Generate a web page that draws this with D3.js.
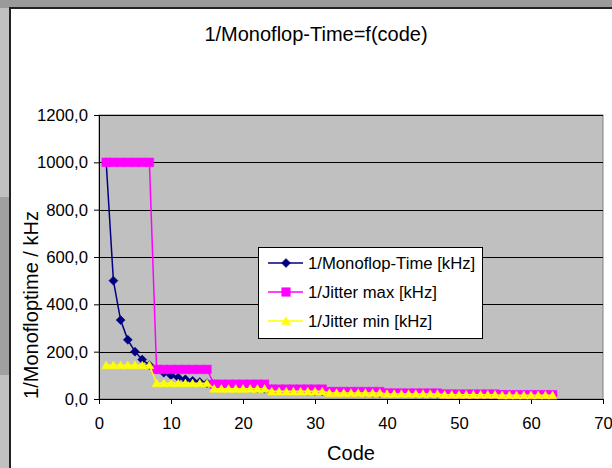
<!DOCTYPE html>
<html>
<head>
<meta charset="utf-8">
<script src="https://cdn.jsdelivr.net/npm/d3@7"></script>
<style>
body { margin: 0; background: #fff; }
text { font-family: "Liberation Sans", Arial, sans-serif; fill: #000; }
</style>
</head>
<body>
<div id="chart"></div>
<script>
// Codes 1..63 (x values)
const codes = [1, 2, 3, 4, 5, 6, 7, 8, 9, 10, 11, 12, 13, 14, 15, 16, 17, 18, 19, 20,
	21, 22, 23, 24, 25, 26, 27, 28, 29, 30, 31, 32, 33, 34, 35, 36, 37, 38, 39, 40,
	41, 42, 43, 44, 45, 46, 47, 48, 49, 50, 51, 52, 53, 54, 55, 56, 57, 58, 59, 60,
	61, 62, 63];

// 1/Monoflop-Time [kHz]
const monoflop = [1000, 500, 333.3, 250, 200, 166.7, 142.9, 125, 111.1, 100,
	90.9, 83.3, 76.9, 71.4, 66.7, 62.5, 58.8, 55.6, 52.6, 50,
	47.6, 45.5, 43.5, 41.7, 40, 38.5, 37, 35.7, 34.5, 33.3,
	32.3, 31.3, 30.3, 29.4, 28.6, 27.8, 27, 26.3, 25.6, 25,
	24.4, 23.8, 23.3, 22.7, 22.2, 21.7, 21.3, 20.8, 20.4, 20,
	19.6, 19.2, 18.9, 18.5, 18.2, 17.9, 17.5, 17.2, 16.9, 16.7,
	16.4, 16.1, 15.9];

// 1/Jitter max [kHz]
const jitterMax = [1000, 1000, 1000, 1000, 1000, 1000, 1000,
	125, 125, 125, 125, 125, 125, 125, 125,
	62.5, 62.5, 62.5, 62.5, 62.5, 62.5, 62.5, 62.5,
	41.7, 41.7, 41.7, 41.7, 41.7, 41.7, 41.7, 41.7,
	31.3, 31.3, 31.3, 31.3, 31.3, 31.3, 31.3, 31.3,
	25, 25, 25, 25, 25, 25, 25, 25,
	20.8, 20.8, 20.8, 20.8, 20.8, 20.8, 20.8, 20.8,
	17.9, 17.9, 17.9, 17.9, 17.9, 17.9, 17.9, 17.9];

// 1/Jitter min [kHz]
const jitterMin = [142.9, 142.9, 142.9, 142.9, 142.9, 142.9, 142.9,
	66.7, 66.7, 66.7, 66.7, 66.7, 66.7, 66.7, 66.7,
	43.5, 43.5, 43.5, 43.5, 43.5, 43.5, 43.5, 43.5,
	32.3, 32.3, 32.3, 32.3, 32.3, 32.3, 32.3, 32.3,
	25.6, 25.6, 25.6, 25.6, 25.6, 25.6, 25.6, 25.6,
	21.3, 21.3, 21.3, 21.3, 21.3, 21.3, 21.3, 21.3,
	18.2, 18.2, 18.2, 18.2, 18.2, 18.2, 18.2, 18.2,
	15.9, 15.9, 15.9, 15.9, 15.9, 15.9, 15.9, 15.9];

const xTicks = [0, 10, 20, 30, 40, 50, 60, 70];
const yTicks = [0, 200, 400, 600, 800, 1000, 1200];

const seriesNames = ["1/Monoflop-Time [kHz]", "1/Jitter max [kHz]", "1/Jitter min [kHz]"];

const W = 612, H = 468;
const svg = d3.select("#chart").append("svg")
	.attr("width", W)
	.attr("height", H);

// Window chrome around the chart
svg.append("rect").attr("x", 0).attr("y", 0).attr("width", W).attr("height", H).attr("fill", "#c0c0c0");
svg.append("rect").attr("x", 0).attr("y", 0).attr("width", W).attr("height", 8).attr("fill", "#9a9a9a");
svg.append("rect").attr("x", 0).attr("y", 197).attr("width", 9).attr("height", 178).attr("fill", "#a0a0a0");
svg.append("rect").attr("x", 10).attr("y", 8).attr("width", W).attr("height", H).attr("fill", "#fff")
	.attr("stroke", "#222").attr("stroke-width", 2);

// Plot area
const plot = {left: 99, right: 603, top: 115, bottom: 399};

const x = d3.scaleLinear().domain([0, 70]).range([plot.left, plot.right]);
const y = d3.scaleLinear().domain([0, 1200]).range([plot.bottom, plot.top]);

svg.append("rect")
	.attr("x", plot.left).attr("y", plot.top)
	.attr("width", plot.right - plot.left).attr("height", plot.bottom - plot.top)
	.attr("fill", "#c0c0c0").attr("stroke", "#808080").attr("stroke-width", 1);

// Gridlines
svg.append("g")
	.selectAll("line")
	.data(yTicks.filter(d => d > 0))
	.enter().append("line")
	.attr("x1", plot.left).attr("x2", plot.right)
	.attr("y1", d => Math.round(y(d)) + 0.5).attr("y2", d => Math.round(y(d)) + 0.5)
	.attr("stroke", "#000").attr("stroke-width", 1);

// Axes
const loc = d3.formatLocale({decimal: ",", thousands: ".", grouping: [3], currency: ["", ""]});
const fmt = loc.format(".1f");

const yAxis = svg.append("g")
	.attr("transform", `translate(${plot.left},0)`)
	.call(d3.axisLeft(y).tickValues(yTicks).tickFormat(fmt).tickSizeInner(5).tickSizeOuter(0).tickPadding(6));
const xAxis = svg.append("g")
	.attr("transform", `translate(0,${plot.bottom})`)
	.call(d3.axisBottom(x).tickValues(xTicks).tickSizeInner(5).tickSizeOuter(0).tickPadding(13));

[xAxis, yAxis].forEach(a => {
	a.selectAll("path, line").attr("stroke", "#000");
	a.selectAll("text").style("font-size", "16.7px").attr("fill", "#000");
	a.attr("font-family", null);
});

// Marker shapes
const diamond = "M0,-4.5L4.5,0L0,4.5L-4.5,0Z";
const square = "M-4.3,-4.3H4.3V4.3H-4.3Z";
const triangle = "M0,-4.2L4.5,3.6L-4.5,3.6Z";

const series = [
	{name: seriesNames[0], values: monoflop, color: "#000080", marker: diamond},
	{name: seriesNames[1], values: jitterMax, color: "#ff00ff", marker: square},
	{name: seriesNames[2], values: jitterMin, color: "#ffff00", marker: triangle}
];

const line = d3.line()
	.x(d => x(d[0]))
	.y(d => y(d[1]));

series.forEach(s => {
	const pts = codes.map((c, i) => [c, s.values[i]]);
	svg.append("path")
		.datum(pts)
		.attr("fill", "none")
		.attr("stroke", s.color)
		.attr("stroke-width", 1.5)
		.attr("d", line);

	svg.append("g")
		.selectAll("path")
		.data(pts)
		.enter().append("path")
		.attr("transform", d => `translate(${x(d[0])},${y(d[1])})`)
		.attr("d", s.marker)
		.attr("fill", s.color)
		.attr("stroke", s.color)
		.attr("stroke-width", 0.5);
});

// Legend
const legend = svg.append("g");
legend.append("rect")
	.attr("x", 258.5).attr("y", 247.5).attr("width", 224).attr("height", 91)
	.attr("fill", "#fff").attr("stroke", "#000").attr("stroke-width", 1);

series.forEach((s, i) => {
	const cy = 263 + i * 29;
	legend.append("line")
		.attr("x1", 268).attr("x2", 303).attr("y1", cy).attr("y2", cy)
		.attr("stroke", s.color).attr("stroke-width", 1.5);
	legend.append("path")
		.attr("transform", `translate(286,${cy})`)
		.attr("d", s.marker)
		.attr("fill", s.color).attr("stroke", s.color).attr("stroke-width", 0.5);
	legend.append("text")
		.attr("x", 308).attr("y", cy + 6)
		.style("font-size", "16.7px")
		.text(s.name);
});

// Titles
svg.append("text")
	.attr("x", 316).attr("y", 41)
	.attr("text-anchor", "middle")
	.style("font-size", "20px")
	.text("1/Monoflop-Time=f(code)");

svg.append("text")
	.attr("x", (plot.left + plot.right) / 2).attr("y", 460)
	.attr("text-anchor", "middle")
	.style("font-size", "20px")
	.text("Code");

svg.append("text")
	.attr("transform", "translate(38,305) rotate(-90)")
	.attr("text-anchor", "middle")
	.style("font-size", "20px")
	.text("1/Monofloptime / kHz");
</script>
</body>
</html>
